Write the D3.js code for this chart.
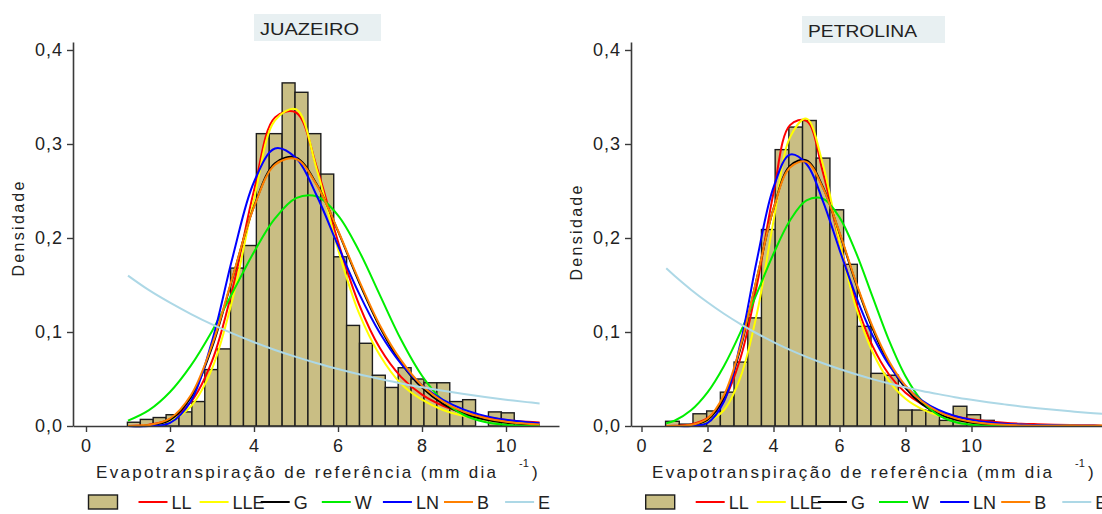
<!DOCTYPE html>
<html>
<head>
<meta charset="utf-8">
<script src="https://cdnjs.cloudflare.com/ajax/libs/d3/7.8.5/d3.min.js"></script>
<style>
body { margin: 0; background: #ffffff; }
svg { display: block; font-family: "Liberation Sans", Arial, sans-serif; }
</style>
</head>
<body>
<script>
//Histogram bins (mm dia-1) and densities, JUAZEIRO
var juaEdges = [0.986, 1.293, 1.600, 1.907, 2.214, 2.521, 2.828, 3.135, 3.442, 3.749,
	4.056, 4.363, 4.670, 4.977, 5.284, 5.591, 5.898, 6.205, 6.512, 6.819,
	7.126, 7.433, 7.740, 8.047, 8.354, 8.661, 8.968, 9.275, 9.582, 9.889, 10.196];
var juaDens = [0.004, 0.007, 0.009, 0.012, 0.015, 0.026, 0.060, 0.082, 0.168, 0.192,
	0.311, 0.311, 0.365, 0.355, 0.311, 0.268, 0.180, 0.107, 0.088, 0.054,
	0.041, 0.062, 0.050, 0.046, 0.046, 0.026, 0.028, 0.000, 0.015, 0.014];

//Histogram bins and densities, PETROLINA
var petEdges = [0.730, 1.145, 1.560, 1.975, 2.390, 2.805, 3.220, 3.635, 4.050, 4.465,
	4.880, 5.295, 5.710, 6.125, 6.540, 6.955, 7.370, 7.785, 8.200, 8.615,
	9.030, 9.445, 9.860, 10.275, 10.690, 11.105];
var petDens = [0.005, 0.002, 0.013, 0.016, 0.036, 0.068, 0.115, 0.209, 0.294, 0.318,
	0.325, 0.285, 0.230, 0.172, 0.106, 0.056, 0.054, 0.017, 0.017, 0.016,
	0.006, 0.021, 0.012, 0.006, 0.002];

//Fitted densities, JUAZEIRO
var juaGrid = [1.0, 1.5, 2.0, 2.5, 3.0, 3.5, 4.0, 4.5, 5.0, 5.5, 6.0, 6.5, 7.0, 7.5, 8.0, 8.5, 9.0, 9.5, 10.0, 10.5, 10.8];
var juaLL = [0.0001, 0.0014, 0.0074, 0.0257, 0.0690, 0.148, 0.2506, 0.3283, 0.3335, 0.2745, 0.1961, 0.1294, 0.0826, 0.0523, 0.0333, 0.0215, 0.0141, 0.0095, 0.0064, 0.0044, 0.0036];
var juaLLE = [0.0000, 0.0008, 0.0055, 0.021, 0.061, 0.137, 0.241, 0.325, 0.337, 0.272, 0.188, 0.120, 0.075, 0.045, 0.028, 0.017, 0.0105, 0.0065, 0.004, 0.0026, 0.002];
var juaG = [0.0000, 0.0006, 0.0066, 0.0306, 0.0836, 0.1593, 0.2335, 0.2795, 0.2855, 0.2566, 0.2073, 0.1531, 0.1049, 0.0672, 0.0408, 0.0235, 0.0130, 0.0069, 0.0035, 0.0017, 0.0011];
var juaW = [0.0057, 0.0169, 0.0362, 0.0645, 0.1009, 0.1428, 0.1851, 0.2208, 0.2424, 0.2441, 0.2241, 0.1863, 0.1390, 0.0920, 0.0535, 0.0270, 0.0117, 0.0043, 0.0013, 0.0003, 0.0001];
var juaLN = [0.0000, 0.0001, 0.0034, 0.0267, 0.0902, 0.1812, 0.2596, 0.2952, 0.2850, 0.2444, 0.1919, 0.1411, 0.0987, 0.0664, 0.0434, 0.0277, 0.0174, 0.0108, 0.0066, 0.0040, 0.0030];
var juaB = [0.0001, 0.001, 0.008, 0.033, 0.086, 0.160, 0.233, 0.278, 0.284, 0.256, 0.208, 0.155, 0.107, 0.070, 0.043, 0.026, 0.015, 0.0085, 0.0046, 0.0024, 0.0016];
var juaE = [0.1600, 0.1445, 0.1312, 0.1191, 0.1081, 0.0982, 0.0891, 0.0809, 0.0735, 0.0667, 0.0606, 0.0550, 0.0500, 0.0453, 0.0412, 0.0374, 0.0340, 0.0308, 0.0280, 0.0254, 0.0240];

//Fitted densities, PETROLINA
var petGrid = [0.75, 1.0, 1.5, 2.0, 2.5, 3.0, 3.5, 4.0, 4.5, 5.0, 5.5, 6.0, 6.5, 7.0, 7.5, 8.0, 8.5, 9.0, 9.5, 10.0, 10.5, 11.0, 11.5, 12.0, 12.5, 13.0, 13.5, 14.0];
var petLL = [0.00004, 0.0002, 0.0017, 0.0083, 0.0279, 0.0723, 0.1501, 0.2479, 0.3201, 0.3245, 0.2695, 0.1955, 0.1313, 0.0852, 0.0548, 0.0354, 0.0232, 0.0154, 0.0104, 0.0072, 0.0050, 0.0035, 0.0025, 0.0019, 0.0014, 0.0010, 0.0008, 0.0006];
var petLLE = [0, 0, 0.0006, 0.0045, 0.017, 0.052, 0.120, 0.218, 0.307, 0.327, 0.278, 0.196, 0.126, 0.079, 0.048, 0.029, 0.018, 0.011, 0.0068, 0.0043, 0.0028, 0.0019, 0.0013, 0.0009, 0.0006, 0.0004, 0.0003, 0.0002];
var petG = [0, 0, 0.0006, 0.0066, 0.0303, 0.0828, 0.1577, 0.2312, 0.2767, 0.2826, 0.2540, 0.2052, 0.1516, 0.1039, 0.0665, 0.0404, 0.0233, 0.0129, 0.0068, 0.0035, 0.0017, 0.0009, 0.0004, 0.0002, 0.0001, 0, 0, 0];
var petW = [0.003, 0.0056, 0.0167, 0.0358, 0.0639, 0.0999, 0.1414, 0.1832, 0.2186, 0.2400, 0.2417, 0.2219, 0.1844, 0.1376, 0.0911, 0.0530, 0.0267, 0.0115, 0.0042, 0.0013, 0.0003, 0.0001, 0, 0, 0, 0, 0, 0];
var petLN = [0, 0, 0.0001, 0.0033, 0.0261, 0.0882, 0.1772, 0.2539, 0.2887, 0.2787, 0.2390, 0.1877, 0.1380, 0.0965, 0.0649, 0.0424, 0.0271, 0.0170, 0.0106, 0.0065, 0.0040, 0.0024, 0.0015, 0.0009, 0.0005, 0.0003, 0.0002, 0.0001];
var petB = [0, 0.0001, 0.001, 0.008, 0.033, 0.085, 0.158, 0.231, 0.275, 0.281, 0.253, 0.206, 0.153, 0.106, 0.069, 0.043, 0.026, 0.015, 0.0084, 0.0046, 0.0024, 0.0012, 0.0006, 0.0003, 0.0001, 0, 0, 0];
var petE = [0.1677, 0.1598, 0.1450, 0.1316, 0.1194, 0.1084, 0.0984, 0.0893, 0.0810, 0.0735, 0.0667, 0.0606, 0.0550, 0.0499, 0.0453, 0.0411, 0.0373, 0.0339, 0.0307, 0.0279, 0.0253, 0.0230, 0.0208, 0.0189, 0.0172, 0.0156, 0.0141, 0.0128];

//Legend names, colours and tick labels
var curveNames = ["LL", "LLE", "G", "W", "LN", "B", "E"];
var curveColors = ["#ff0000", "#ffff00", "#000000", "#00ee00", "#0000ff", "#ff8000", "#add8e6"];
var xTicks = [0, 2, 4, 6, 8, 10];
var yTicks = [0, 0.1, 0.2, 0.3, 0.4];

//Width and height
var width = 1102;
var height = 514;

var svg = d3.select("body")
	.append("svg")
	.attr("width", width)
	.attr("height", height);

var textColor = "#222";
var axisColor = "#3a3a3a";

//same vertical scale for both panels
var y = d3.scaleLinear().domain([0, 0.4085]).range([426, 42]);

function drawPanel(p) {
	'use strict';
	//x scale: 0..10 placed like the picture, then stretched to the drawn axis length
	var x = d3.scaleLinear().domain([0, 10]).range([p.x0, p.x10]);
	x.domain([x.invert(p.axisLeft), x.invert(p.axisRight)]).range([p.axisLeft, p.axisRight]);

	var g = svg.append("g");

	//title box
	g.append("rect")
		.attr("x", p.boxX).attr("y", p.boxY)
		.attr("width", p.boxW).attr("height", 27)
		.attr("fill", "#e8f0f2");
	g.append("text")
		.attr("x", p.boxX + 6).attr("y", p.boxY + 21)
		.attr("font-size", 17)
		.attr("textLength", p.titleLen)
		.attr("lengthAdjust", "spacingAndGlyphs")
		.attr("fill", textColor)
		.text(p.title);

	//histogram bars
	var bars = p.dens.map(function (d, i) {
		return {x0: p.edges[i], x1: p.edges[i + 1], v: d};
	}).filter(function (d) { return d.v > 0; });

	g.selectAll("rect.bar")
		.data(bars)
		.enter()
		.append("rect")
		.attr("class", "bar")
		.attr("x", function (d) { return x(d.x0); })
		.attr("width", function (d) { return x(d.x1) - x(d.x0); })
		.attr("y", function (d) { return y(d.v); })
		.attr("height", function (d) { return y(0) - y(d.v); })
		.attr("fill", "#c9be84")
		.attr("stroke", "#1c1c1c")
		.attr("stroke-width", 1.4);

	//fitted curves, in legend order
	var line = d3.line()
		.x(function (d) { return x(d[0]); })
		.y(function (d) { return y(d[1]); })
		.curve(d3.curveCatmullRom);

	p.curves.forEach(function (vals, k) {
		var pts = p.grid.map(function (gx, i) { return [gx, vals[i]]; });
		g.append("path")
			.attr("d", line(pts))
			.attr("fill", "none")
			.attr("stroke", curveColors[k])
			.attr("stroke-width", 2);
	});

	//axes
	var xAxis = d3.axisBottom(x)
		.tickValues(xTicks)
		.tickSize(6)
		.tickSizeOuter(0)
		.tickPadding(7);
	var yAxis = d3.axisLeft(y)
		.tickValues(yTicks)
		.tickSize(6)
		.tickSizeOuter(0)
		.tickPadding(4)
		.tickFormat(function (d) { return d3.format(".1f")(d).replace(".", ","); });

	var gx = g.append("g")
		.attr("transform", "translate(0," + y(0) + ")")
		.call(xAxis);
	var gy = g.append("g")
		.attr("transform", "translate(" + p.axisLeft + ",0)")
		.call(yAxis);

	[gx, gy].forEach(function (a) {
		a.select(".domain").attr("stroke", axisColor).attr("stroke-width", 1.6);
		a.selectAll(".tick line").attr("stroke", axisColor).attr("stroke-width", 1.4);
		a.selectAll(".tick text")
			.attr("fill", textColor)
			.attr("font-size", 18)
			.attr("letter-spacing", 1)
			.attr("font-family", "Liberation Sans, Arial, sans-serif");
	});

	//axis titles
	g.append("text")
		.attr("x", p.xTitleX).attr("y", 478)
		.attr("font-size", 17)
		.attr("textLength", 400)
		.attr("lengthAdjust", "spacing")
		.attr("fill", textColor)
		.text("Evapotranspiração de referência (mm dia");
	g.append("text")
		.attr("x", p.xTitleX + 423).attr("y", 467)
		.attr("font-size", 11)
		.attr("fill", textColor)
		.text("-1");
	g.append("text")
		.attr("x", p.xTitleX + 436).attr("y", 478)
		.attr("font-size", 17)
		.attr("fill", textColor)
		.text(")");

	g.append("text")
		.attr("transform", "translate(" + p.yTitleX + "," + p.yTitleY + ") rotate(-90)")
		.attr("text-anchor", "middle")
		.attr("font-size", 16)
		.attr("textLength", 95)
		.attr("lengthAdjust", "spacing")
		.attr("fill", textColor)
		.text("Densidade");

	//legend
	var lg = g.append("g").attr("transform", "translate(" + p.legendX + ",0)");
	lg.append("rect")
		.attr("x", 0).attr("y", 495)
		.attr("width", 29).attr("height", 14)
		.attr("fill", "#c9be84")
		.attr("stroke", "#1c1c1c")
		.attr("stroke-width", 1.4);
	curveNames.forEach(function (name, k) {
		var lx = 50 + k * 61.1;
		lg.append("line")
			.attr("x1", lx).attr("x2", lx + 29)
			.attr("y1", 502).attr("y2", 502)
			.attr("stroke", curveColors[k])
			.attr("stroke-width", 2);
		lg.append("text")
			.attr("x", lx + 33).attr("y", 509)
			.attr("font-size", 18)
			.attr("fill", textColor)
			.text(name);
	});
}

drawPanel({
	title: "JUAZEIRO", boxX: 254, boxY: 14, boxW: 127, titleLen: 99,
	x0: 86, x10: 506, axisLeft: 73, axisRight: 559,
	edges: juaEdges, dens: juaDens, grid: juaGrid,
	curves: [juaLL, juaLLE, juaG, juaW, juaLN, juaB, juaE],
	xTitleX: 96, yTitleX: 24, yTitleY: 229, legendX: 88.5
});

drawPanel({
	title: "PETROLINA", boxX: 802, boxY: 16, boxW: 143, titleLen: 109,
	x0: 641.5, x10: 971.5, axisLeft: 631, axisRight: 1120,
	edges: petEdges, dens: petDens, grid: petGrid,
	curves: [petLL, petLLE, petG, petW, petLN, petB, petE],
	xTitleX: 652, yTitleX: 582, yTitleY: 233, legendX: 645.7
});
</script>
</body>
</html>
